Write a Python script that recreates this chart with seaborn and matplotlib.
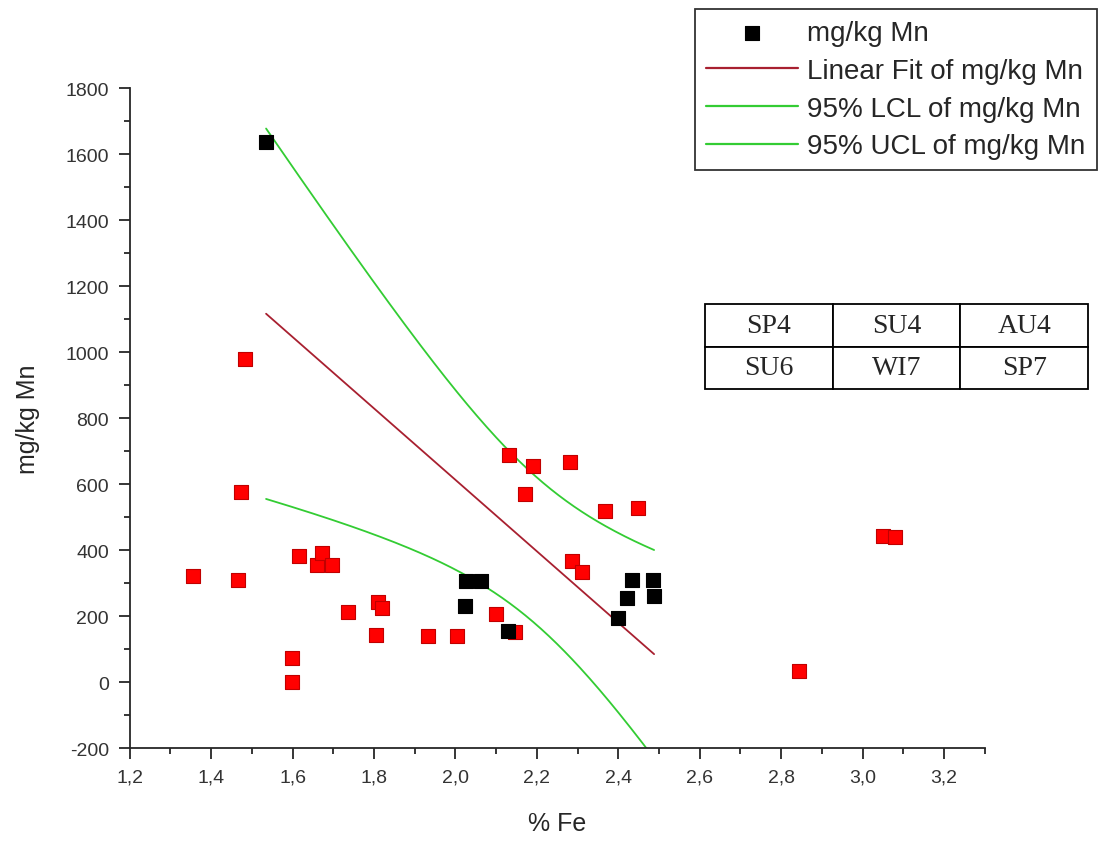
import numpy as np
import pandas as pd
import matplotlib
matplotlib.use('Agg')
import matplotlib.pyplot as plt
import seaborn as sns
from matplotlib.ticker import MultipleLocator, FuncFormatter

# Samples used for the fit (black squares)
fe_black = [1.535, 2.025, 2.062, 2.023, 2.129, 2.400, 2.434, 2.486, 2.422, 2.488]
mn_black = [1636, 306, 306, 229, 155, 194, 309, 309, 254, 260]

# Other samples (red squares)
fe_red = [1.355, 1.466, 1.473, 1.483, 1.599, 1.599, 1.616, 1.659, 1.673, 1.697,
          1.737, 1.806, 1.809, 1.819, 1.932, 2.003, 2.099, 2.131, 2.146, 2.171,
          2.190, 2.281, 2.286, 2.311, 2.367, 2.449, 2.843, 3.050, 3.079]
mn_red = [321, 309, 576, 979, 72, 0, 382, 355, 391, 355,
          212, 143, 242, 224, 139, 139, 206, 688, 151, 570,
          654, 667, 366, 332, 518, 527, 33, 442, 439]

table_cells = [['SP4', 'SU4', 'AU4'],
               ['SU6', 'WI7', 'SP7']]

sns.set_style('ticks')
plt.rcParams['font.family'] = ['Liberation Sans', 'DejaVu Sans']

df_black = pd.DataFrame({'fe': fe_black, 'mn': mn_black})
df_red = pd.DataFrame({'fe': fe_red, 'mn': mn_red})

# Linear fit with 95% confidence band of the mean (t for 8 dof)
x = np.array(fe_black)
y = np.array(mn_black)
n = len(x)
slope, intercept = np.polyfit(x, y, 1)
resid = y - (slope * x + intercept)
s = np.sqrt(np.sum(resid ** 2) / (n - 2))
sxx = np.sum((x - x.mean()) ** 2)
t_val = 2.306
xf = np.linspace(x.min(), x.max(), 200)
yf = slope * xf + intercept
half = t_val * s * np.sqrt(1 / n + (xf - x.mean()) ** 2 / sxx)
fit_df = pd.DataFrame({'fe': xf, 'fit': yf, 'lcl': yf - half, 'ucl': yf + half})

fig = plt.figure(figsize=(10.99, 8.45), dpi=100)
ax = fig.add_axes([0.118, 0.1136, 0.778, 0.781])

sns.lineplot(data=fit_df, x='fe', y='fit', ax=ax, color='#a82030', lw=1.3,
             sort=False, label='Linear Fit of mg/kg Mn', zorder=2)
sns.lineplot(data=fit_df, x='fe', y='lcl', ax=ax, color='#33cc33', lw=1.3,
             sort=False, label='95% LCL of mg/kg Mn', zorder=2)
sns.lineplot(data=fit_df, x='fe', y='ucl', ax=ax, color='#33cc33', lw=1.3,
             sort=False, label='95% UCL of mg/kg Mn', zorder=2)
sns.scatterplot(data=df_red, x='fe', y='mn', ax=ax, marker='s', s=95,
                color='#ff0000', edgecolor='#c00000', linewidth=0.8, zorder=3)
sns.scatterplot(data=df_black, x='fe', y='mn', ax=ax, marker='s', s=95,
                color='black', edgecolor='black', linewidth=0.8, zorder=4,
                label='mg/kg Mn')

ax.set_xlim(1.2, 3.3)
ax.set_ylim(-200, 1800)
ax.xaxis.set_major_locator(MultipleLocator(0.2))
ax.xaxis.set_minor_locator(MultipleLocator(0.1))
ax.yaxis.set_major_locator(MultipleLocator(200))
ax.yaxis.set_minor_locator(MultipleLocator(100))
ax.xaxis.set_major_formatter(FuncFormatter(lambda v, p: f'{v:.1f}'.replace('.', ',')))
ax.yaxis.set_major_formatter(FuncFormatter(lambda v, p: f'{v:.0f}'))
ax.tick_params(which='major', direction='out', length=8, width=1.3,
               labelsize=14, labelcolor='#333333', pad=7)
ax.tick_params(which='minor', direction='out', length=4, width=1.3)
for side in ['top', 'right']:
    ax.spines[side].set_visible(False)
for side in ['left', 'bottom']:
    ax.spines[side].set_linewidth(1.3)
ax.set_xlabel('% Fe', fontsize=18, labelpad=18)
ax.set_ylabel('mg/kg Mn', fontsize=18, labelpad=18)

# legend in the figure's top right corner
handles, labels = ax.get_legend_handles_labels()
order = [labels.index(l) for l in ['mg/kg Mn', 'Linear Fit of mg/kg Mn',
                                   '95% LCL of mg/kg Mn', '95% UCL of mg/kg Mn']]
ax.get_legend().remove()
leg = fig.legend([handles[i] for i in order], [labels[i] for i in order],
                 loc='upper right', bbox_to_anchor=(0.998, 0.988), fontsize=20,
                 frameon=True, fancybox=False, edgecolor='black',
                 handlelength=3.3, labelspacing=0.42, borderpad=0.4,
                 handletextpad=0.35, borderaxespad=0)
leg.get_frame().set_linewidth(1.3)
for h in leg.legend_handles[1:]:
    h.set_linewidth(1.6)

# season table
tax = fig.add_axes([705 / 1099, 1 - 390 / 845, 383 / 1099, 85 / 845])
tax.axis('off')
tbl = tax.table(cellText=table_cells, cellLoc='center', bbox=[0, 0, 1, 1])
tbl.auto_set_font_size(False)
for cell in tbl.get_celld().values():
    cell.set_linewidth(1.3)
    cell.get_text().set_fontsize(20)
    cell.get_text().set_family('Liberation Serif')

fig.savefig('out.png', dpi=100)
